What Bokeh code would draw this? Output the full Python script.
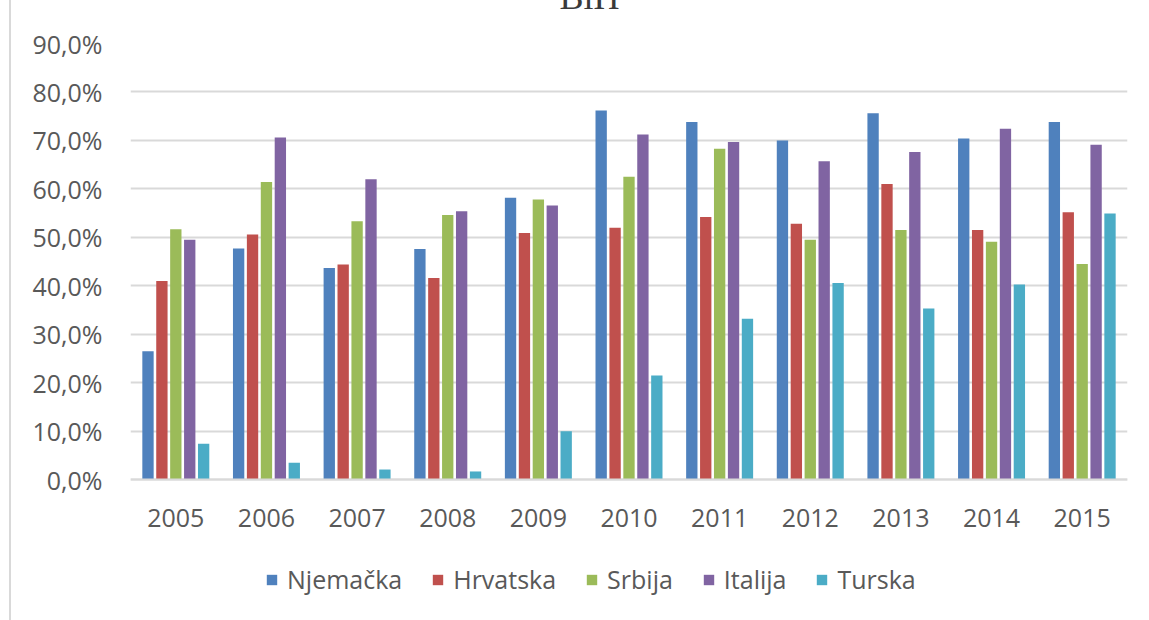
from bokeh.plotting import figure
from bokeh.models import (ColumnDataSource, FactorRange, Range1d, FixedTicker,
                          CustomJSTickFormatter, Legend, LegendItem, Label)
from bokeh.transform import dodge
from bokeh.embed import file_html
from bokeh.resources import INLINE

years = ["2005", "2006", "2007", "2008", "2009", "2010", "2011", "2012", "2013", "2014", "2015"]
njemacka = [26.5, 47.7, 43.7, 47.6, 58.2, 76.2, 73.8, 70.0, 75.6, 70.4, 73.8]
hrvatska = [41.0, 50.6, 44.4, 41.6, 50.9, 52.0, 54.2, 52.8, 61.0, 51.5, 55.2]
srbija = [51.7, 61.4, 53.3, 54.6, 57.8, 62.5, 68.3, 49.5, 51.5, 49.1, 44.5]
italija = [49.5, 70.6, 62.0, 55.4, 56.6, 71.2, 69.7, 65.7, 67.6, 72.4, 69.1]
turska = [7.4, 3.5, 2.1, 1.7, 10.0, 21.5, 33.2, 40.6, 35.3, 40.3, 54.9]
series_names = ["Njemačka", "Hrvatska", "Srbija", "Italija", "Turska"]
y_ticks = [0, 10, 20, 30, 40, 50, 60, 70, 80, 90]
title_text = "BiH"

colors = ["#4F81BD", "#C0504D", "#9BBB59", "#8064A2", "#4BACC6"]
cols = ["njemacka", "hrvatska", "srbija", "italija", "turska"]

source = ColumnDataSource(data=dict(year=years, njemacka=njemacka, hrvatska=hrvatska,
                                    srbija=srbija, italija=italija, turska=turska))

FONT = "Open Sans"
TXT = "#595959"

# frame extends below zero so the legend can sit inside it; the x axis is pinned at 0
p = figure(x_range=FactorRange(*years, range_padding=0), y_range=Range1d(-29.05, 90),
           frame_width=997, frame_height=577, output_backend="svg", toolbar_location=None,
           min_border_left=130, min_border_right=22, min_border_top=43, min_border_bottom=0)
p.outline_line_color = None
p.background_fill_color = "white"
p.border_fill_color = None
p.styles = {"background": "linear-gradient(to right, white 9px, #d9d9d9 9px, #d9d9d9 11px, white 11px)"}

offsets = [-0.307, -0.1535, 0.0, 0.1535, 0.307]
renderers = []
for c, off, col in zip(cols, offsets, colors):
    r = p.vbar(x=dodge("year", off, range=p.x_range), top=c, width=0.125, bottom=0,
               source=source, fill_color=col, line_color=None)
    renderers.append(r)

p.xgrid.grid_line_color = None
p.ygrid.grid_line_color = "#d9d9d9"
p.ygrid.grid_line_width = 2
p.yaxis.ticker = FixedTicker(ticks=y_ticks)
p.yaxis.formatter = CustomJSTickFormatter(code="return tick.toFixed(1).replace('.', ',') + '%';")
p.yaxis.axis_line_color = None
p.yaxis.major_tick_line_color = None
p.yaxis.minor_tick_line_color = None
p.yaxis.major_tick_out = 0
p.yaxis.major_label_standoff = 28
p.xaxis.fixed_location = 0
p.xaxis.axis_line_color = "#d9d9d9"
p.xaxis.axis_line_width = 2
p.xaxis.major_tick_line_color = None
p.xaxis.minor_tick_line_color = None
p.xaxis.major_tick_out = 0
p.xaxis.major_label_standoff = 29
for ax in (p.xaxis, p.yaxis):
    ax.major_label_text_font = FONT
    ax.major_label_text_font_size = "25px"
    ax.major_label_text_color = TXT

legend = Legend(items=[LegendItem(label=n, renderers=[r]) for n, r in zip(series_names, renderers)],
                orientation="horizontal", location=(135, 24),
                glyph_width=13, glyph_height=13, label_standoff=9, spacing=29,
                padding=0, margin=0, border_line_color=None, background_fill_alpha=0,
                label_text_font=FONT, label_text_font_size="25px", label_text_color=TXT)
p.add_layout(legend, "center")

title = Label(x=459, y=47, x_units="screen", y_units="screen", text=title_text,
              text_font="Liberation Serif", text_font_size="36px", text_align="center",
              text_baseline="alphabetic", text_color="#3a3a3a")
p.add_layout(title, "above")

open("out.html", "w").write(file_html(p, INLINE))
